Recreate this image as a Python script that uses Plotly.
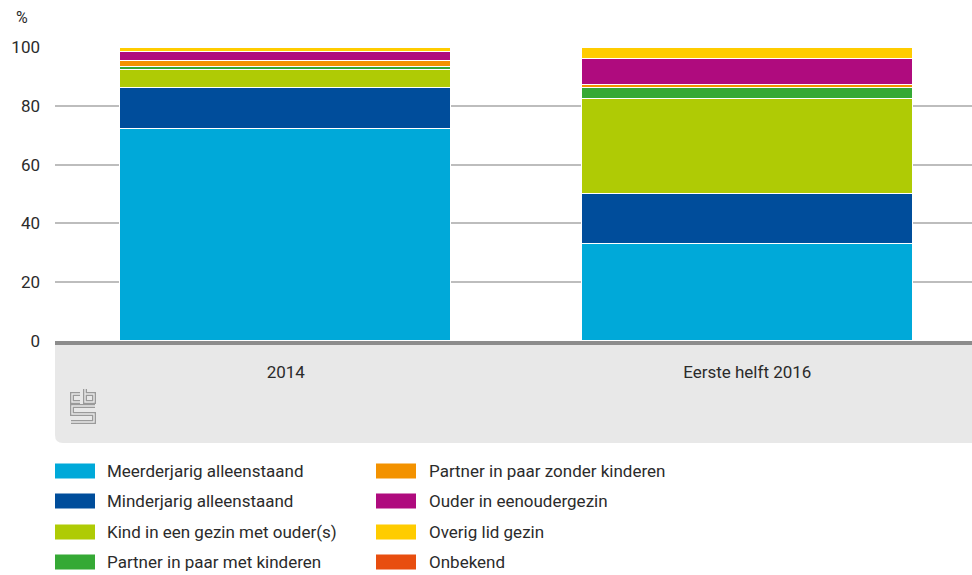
import plotly.graph_objects as go

categories = ["2014", "Eerste helft 2016"]
series_names = [
    "Meerderjarig alleenstaand",
    "Minderjarig alleenstaand",
    "Kind in een gezin met ouder(s)",
    "Partner in paar met kinderen",
    "Partner in paar zonder kinderen",
    "Ouder in eenoudergezin",
    "Overig lid gezin",
    "Onbekend",
]
meerderjarig = [72.1, 33.0]
minderjarig = [13.9, 17.0]
kind = [6.3, 32.2]
partner_met = [0.8, 3.7]
partner_zonder = [2.0, 1.2]
ouder = [3.3, 8.9]
overig = [1.3, 3.5]
onbekend = [0.2, 0.2]
series_values = [meerderjarig, minderjarig, kind, partner_met, partner_zonder, ouder, overig, onbekend]
colors = ["#00a9d9", "#004d9b", "#afcb05", "#35a935", "#f39200", "#af0b7e", "#ffcc00", "#e84e0f"]
y_ticks = [0, 20, 40, 60, 80, 100]

W, H = 972, 575
L, R, T, B = 55, 0, 47, 234
PW, PH = W - L - R, H - T - B
FONT = "Roboto"
TXT = "#2b2b2b"

def px(x):
    return (x - L) / PW

def py(y):
    return (H - B - y) / PH

fig = go.Figure()
for name, vals, col in zip(series_names, series_values, colors):
    fig.add_trace(go.Bar(
        x=categories, y=vals, name=name, width=0.717,
        marker=dict(color=col, line=dict(color="white", width=1)),
        showlegend=False, hovertemplate=name + ": %{y}%<extra></extra>",
    ))

shapes = []
# grey footer box with rounded bottom-left corner
rx, ry = 8 / PW, 8 / PH
yt, yb = py(345), py(443)
shapes.append(dict(type="path", xref="paper", yref="paper",
                   path=f"M 0,{yt} L 1,{yt} L 1,{yb} L {rx},{yb} Q 0,{yb} 0,{yb + ry} Z",
                   fillcolor="#e8e8e8", line=dict(width=0), layer="below"))
# thick baseline
shapes.append(dict(type="rect", xref="paper", yref="paper", x0=0, x1=1, y0=py(345), y1=py(341),
                   fillcolor="#8c8c8c", line=dict(width=0)))

# CBS logo (outlined strokes)
def path(points):
    return "M " + " L ".join(f"{px(a)},{py(b)}" for a, b in points)

logo_paths = [
    [(80, 394), (72, 394), (72, 402), (80, 402)],
    [(85, 389), (85, 402), (94, 402), (94, 394), (85, 394)],
    [(95, 406), (72, 406), (72, 414), (94, 414), (94, 422), (71, 422)],
]
for pts in logo_paths:
    shapes.append(dict(type="path", xref="paper", yref="paper", path=path(pts),
                       line=dict(color="#9a9a9a", width=4)))
for pts in logo_paths:
    shapes.append(dict(type="path", xref="paper", yref="paper", path=path(pts),
                       line=dict(color="#e8e8e8", width=1.4)))

annotations = [dict(text="%", xref="paper", yref="paper", x=px(22), y=py(17),
                    showarrow=False, font=dict(family=FONT, size=16, color=TXT),
                    xanchor="center", yanchor="middle")]

# manual legend (two columns)
row_y = [471, 501, 532, 562]
col_x = [(55, 105), (376, 427)]
for i, (name, col) in enumerate(zip(series_names, colors)):
    c, r = divmod(i, 4)
    sx, tx = col_x[c]
    cy = row_y[r]
    shapes.append(dict(type="rect", xref="paper", yref="paper",
                       x0=px(sx), x1=px(sx + 40), y0=py(cy + 7.5), y1=py(cy - 7.5),
                       fillcolor=col, line=dict(width=0)))
    annotations.append(dict(text=name, xref="paper", yref="paper", x=px(tx), y=py(cy),
                            showarrow=False, xanchor="left", yanchor="middle",
                            font=dict(family=FONT, size=17, color=TXT)))

fig.update_layout(
    width=W, height=H, barmode="stack", bargap=0,
    margin=dict(l=L, r=R, t=T, b=B, pad=0),
    paper_bgcolor="white", plot_bgcolor="white",
    font=dict(family=FONT, size=17, color=TXT),
    shapes=shapes, annotations=annotations,
    xaxis=dict(range=[-0.5, 1.487], showgrid=False, zeroline=False, showline=False,
               ticks="outside", ticklen=16, tickcolor="rgba(0,0,0,0)",
               tickfont=dict(family=FONT, size=17, color=TXT), fixedrange=True),
    yaxis=dict(range=[0, 100], tickvals=y_ticks, showgrid=True, gridcolor="#bdbdbd",
               gridwidth=1.5, zeroline=False, showline=False, ticks="",
               ticklabelstandoff=14, tickfont=dict(family=FONT, size=17, color=TXT),
               fixedrange=True),
)

fig.write_html("out.html", config={"displayModeBar": False},
               post_script="document.body.style.margin='0';")
